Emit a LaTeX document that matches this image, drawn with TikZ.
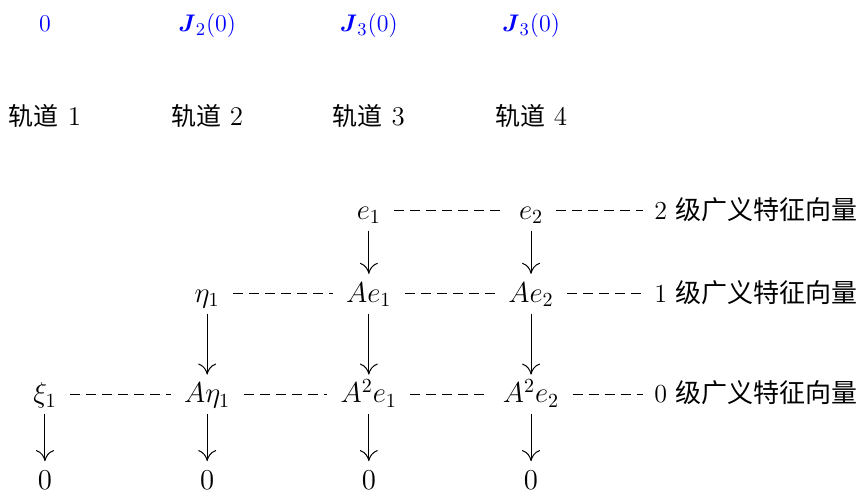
\documentclass[tikz,border=0pt]{standalone}
\definecolor{bleu}{RGB}{0,0,255}
\usepackage{amsmath,amssymb}
\usepackage{fontspec}
\newfontfamily\cjk{Noto Sans CJK SC}
\usepackage{tikz}
\usetikzlibrary{arrows.meta}
\newcommand{\zh}[2]{{\cjk\fontsize{#1}{#1}\selectfont #2}}

\begin{document}
\begin{tikzpicture}[
    vecteur/.style={anchor=base,inner xsep=1pt,inner ysep=2pt,text height=10.5pt,text depth=2pt,font=\fontsize{14.5}{17}\selectfont},
    niveau/.style={vecteur,anchor=base west,inner xsep=0pt,font=\fontsize{13}{15}\selectfont},
    bloc/.style={anchor=base,bleu,font=\fontsize{12.5}{15}\selectfont},
    orbite/.style={anchor=base,font=\fontsize{13.5}{16}\selectfont},
    tiret/.style={dash pattern=on 5pt off 3pt,line width=0.55pt,shorten <=5.5pt,shorten >=5.5pt},
    fleche/.style={-{Computer Modern Rightarrow[length=5.5pt,width=9pt]},line width=0.5pt,shorten <=1.5pt,shorten >=1.5pt}]
  \useasboundingbox (0,0) rectangle (15.18,-8.66);

  %% Blocs de Jordan et orbites
  \foreach \k/\x/\t in {1/0.79/0,2/3.64/\boldsymbol{J}_2(0),3/6.48/\boldsymbol{J}_3(0),4/9.33/\boldsymbol{J}_3(0)}{
    \node[bloc] (bloc\k) at (\x,-0.56) {$\t$};
    \node[orbite] (orb\k) at (\x,-2.21) {\zh{12.5}{轨道} \k};
  }

  %% Vecteurs de rang 2
  \node[vecteur] (e1) at (6.48,-3.85) {$e_1$};
  \node[vecteur] (e2) at (9.33,-3.85) {$e_2$};
  \node[niveau] (niv2) at (11.49,-3.85) {2 \zh{13}{级广义特征向量}};

  %% Vecteurs de rang 1
  \node[vecteur] (eta1) at (3.64,-5.31) {$\eta_1$};
  \node[vecteur] (Ae1) at (6.48,-5.31) {$Ae_1$};
  \node[vecteur] (Ae2) at (9.33,-5.31) {$Ae_2$};
  \node[niveau] (niv1) at (11.49,-5.31) {1 \zh{13}{级广义特征向量}};

  %% Vecteurs propres
  \node[vecteur] (xi1) at (0.79,-7.08) {$\xi_1$};
  \node[vecteur] (Aeta1) at (3.64,-7.08) {$A\eta_1$};
  \node[vecteur] (AAe1) at (6.48,-7.08) {$A^2e_1$};
  \node[vecteur] (AAe2) at (9.33,-7.08) {$A^2e_2$};
  \node[niveau] (niv0) at (11.49,-7.08) {0 \zh{13}{级广义特征向量}};

  %% Zeros
  \foreach \k/\x in {1/0.79,2/3.64,3/6.48,4/9.33}
    \node[vecteur] (zero\k) at (\x,-8.6) {$0$};

  %% Pointilles
  \draw[tiret] (e1) -- (e2);
  \draw[tiret] (e2) -- (niv2);
  \draw[tiret] (eta1) -- (Ae1);
  \draw[tiret] (Ae1) -- (Ae2);
  \draw[tiret] (Ae2) -- (niv1);
  \draw[tiret] (xi1) -- (Aeta1);
  \draw[tiret] (Aeta1) -- (AAe1);
  \draw[tiret] (AAe1) -- (AAe2);
  \draw[tiret] (AAe2) -- (niv0);

  %% Action de A
  \draw[fleche] (e1) -- (Ae1);
  \draw[fleche] (e2) -- (Ae2);
  \draw[fleche] (eta1) -- (Aeta1);
  \draw[fleche] (Ae1) -- (AAe1);
  \draw[fleche] (Ae2) -- (AAe2);
  \draw[fleche] (xi1) -- (zero1);
  \draw[fleche] (Aeta1) -- (zero2);
  \draw[fleche] (AAe1) -- (zero3);
  \draw[fleche] (AAe2) -- (zero4);
\end{tikzpicture}
\end{document}
